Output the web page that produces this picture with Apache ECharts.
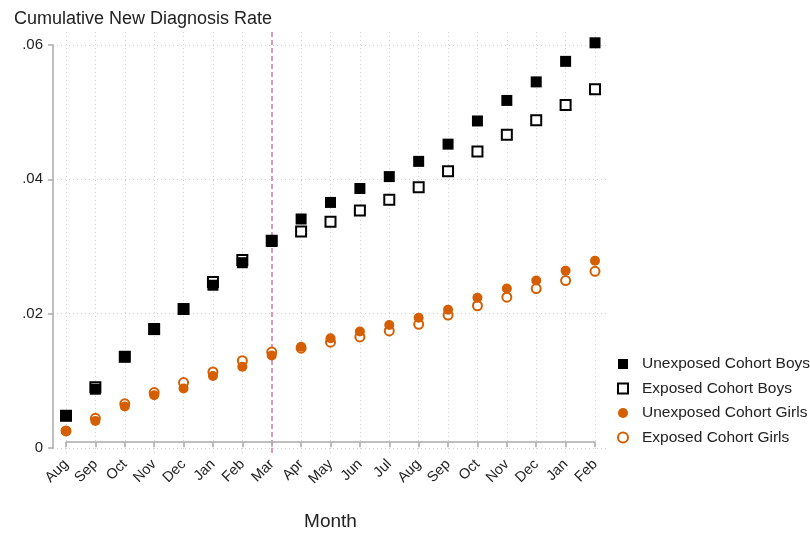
<!DOCTYPE html>
<html lang="en">
  <head>
    <meta charset="UTF-8" />
    <title>Cumulative New Diagnosis Rate</title>
    <script src="https://cdn.jsdelivr.net/npm/echarts@6/dist/echarts.min.js"></script>
    <style>
      body {
        margin: 0;
        padding: 0;
        background: #fff;
      }

      #main {
        width: 810px;
        height: 536px;
      }
    </style>
  </head>

  <body>
    <div id="main"></div>
    <script>
      const months = [
        "Aug", "Sep", "Oct", "Nov", "Dec", "Jan", "Feb", "Mar", "Apr", "May",
        "Jun", "Jul", "Aug", "Sep", "Oct", "Nov", "Dec", "Jan", "Feb",
      ];
      const unexposedBoys = [
        0.004, 0.008, 0.0129, 0.017, 0.0201, 0.0237, 0.0271, 0.0303, 0.0337,
        0.0362, 0.0383, 0.0401, 0.0424, 0.045, 0.0485, 0.0516, 0.0544, 0.0575,
        0.0603,
      ];
      const exposedBoys = [
        0.004, 0.0083, 0.0129, 0.0171, 0.0201, 0.0242, 0.0275, 0.0304, 0.0318,
        0.0333, 0.035, 0.0366, 0.0385, 0.0409, 0.0439, 0.0464, 0.0486, 0.0509,
        0.0533,
      ];
      const unexposedGirls = [
        0.0017, 0.0032, 0.0054, 0.0071, 0.0081, 0.01, 0.0114, 0.0131, 0.0144,
        0.0157, 0.0167, 0.0177, 0.0188, 0.02, 0.0218, 0.0232, 0.0244, 0.0259,
        0.0274,
      ];
      const exposedGirls = [
        0.0017, 0.0036, 0.0058, 0.0075, 0.009, 0.0106, 0.0123, 0.0136, 0.0142,
        0.0151, 0.0159, 0.0168, 0.0178, 0.0192, 0.0206, 0.0219, 0.0232, 0.0244,
        0.0258,
      ];
      const yTicks = [0, 0.02, 0.04, 0.06];
      const policyMonthIndex = 7; // Mar

      const font = "'Liberation Sans', Arial, Helvetica, sans-serif";
      const orange = "#D55E00";
      const pink = "#CC79A7";
      const dotted = { color: "#d4d4d4", width: 1, type: [1, 3] };

      const myChart = echarts.init(document.getElementById("main"));

      const option = {
        animation: false,
        textStyle: { fontFamily: font },
        title: {
          text: "Cumulative New Diagnosis Rate",
          left: 9,
          top: 5,
          textStyle: { fontFamily: font, fontSize: 18, fontWeight: "normal", color: "#222" },
        },
        // grid 0 holds the data and the month axis, grid 1 the rate axis and its gridlines
        grid: [
          { left: 66, right: 215, top: 32, bottom: 74 },
          { left: 53, right: 202, top: 45, bottom: 88 },
        ],
        xAxis: [
          {
            type: "category",
            gridIndex: 0,
            boundaryGap: false,
            data: months,
            name: "Month",
            nameLocation: "middle",
            nameGap: 56,
            nameTextStyle: { fontFamily: font, fontSize: 19, color: "#222" },
            axisLine: { lineStyle: { color: "#aaa", width: 1.5 } },
            axisTick: { length: 5, lineStyle: { color: "#aaa", width: 1.5 } },
            axisLabel: {
              rotate: 45,
              interval: 0,
              margin: 6,
              fontSize: 14.5,
              color: "#222",
              fontFamily: font,
            },
            splitLine: {
              show: true,
              interval: (index) => index !== policyMonthIndex,
              lineStyle: dotted,
            },
          },
          { type: "value", gridIndex: 1, min: 0, max: 1, show: false },
          {
            // only its split line at the policy month is drawn
            type: "category",
            gridIndex: 0,
            position: "top",
            boundaryGap: false,
            data: months,
            axisLine: { show: false },
            axisTick: { show: false },
            axisLabel: { show: false },
            splitLine: {
              show: true,
              interval: (index) => index === policyMonthIndex,
              lineStyle: { color: pink, type: [5, 3], width: 1.5 },
            },
          },
        ],
        yAxis: [
          {
            type: "value",
            gridIndex: 0,
            min: -0.002084,
            max: 0.061932,
            show: false,
          },
          {
            type: "value",
            gridIndex: 1,
            min: yTicks[0],
            max: yTicks[yTicks.length - 1],
            interval: 0.02,
            axisLine: { show: true, lineStyle: { color: "#aaa", width: 1.5 } },
            axisTick: { show: true, length: 5, lineStyle: { color: "#aaa", width: 1.5 } },
            axisLabel: {
              fontSize: 15,
              color: "#222",
              fontFamily: font,
              margin: 10,
              formatter: (v) => (v === 0 ? "0" : v.toFixed(2).replace(/^0/, "")),
            },
            splitLine: { show: true, lineStyle: dotted },
          },
        ],
        legend: {
          orient: "vertical",
          left: 617,
          top: 356,
          padding: 0,
          itemWidth: 10,
          itemHeight: 10,
          itemGap: 8.5,
          textStyle: { fontFamily: font, fontSize: 15.5, color: "#222", padding: [0, 0, 0, 9] },
          data: [
            "Unexposed Cohort Boys",
            "Exposed Cohort Boys",
            "Unexposed Cohort Girls",
            "Exposed Cohort Girls",
          ],
        },
        series: [
          {
            name: "Exposed Cohort Boys",
            type: "scatter",
            symbol: "rect",
            symbolSize: 10,
            itemStyle: { color: "#fff", borderColor: "#000", borderWidth: 2, opacity: 1 },
            data: exposedBoys,
          },
          {
            name: "Exposed Cohort Girls",
            type: "scatter",
            symbol: "circle",
            symbolSize: 9,
            itemStyle: { color: "#fff", borderColor: orange, borderWidth: 2, opacity: 1 },
            data: exposedGirls,
          },
          {
            name: "Unexposed Cohort Boys",
            type: "scatter",
            symbol: "rect",
            symbolSize: 11,
            itemStyle: { color: "#000", opacity: 1 },
            data: unexposedBoys,
          },
          {
            name: "Unexposed Cohort Girls",
            type: "scatter",
            symbol: "circle",
            symbolSize: 10,
            itemStyle: { color: orange, opacity: 1 },
            data: unexposedGirls,
          },
        ],
      };

      myChart.setOption(option);
    </script>
  </body>
</html>
